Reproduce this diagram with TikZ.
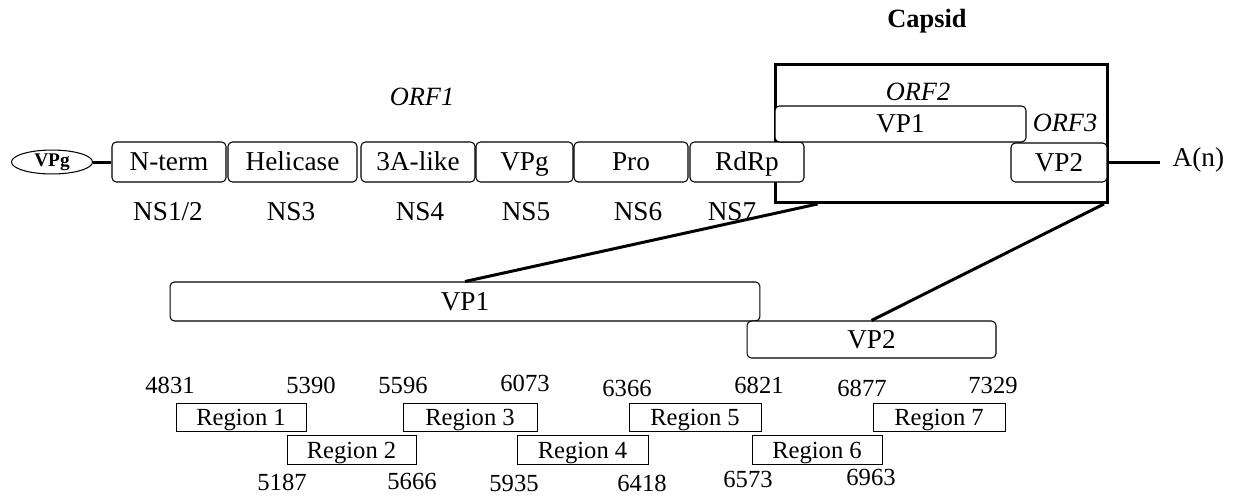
\documentclass[tikz,border=0pt]{standalone}
\usepackage{fontspec}
\setmainfont{Liberation Serif}
\usetikzlibrary{shapes.geometric,calc}
\tikzset{
  dm/.style={draw,rounded corners=2.5pt,fill=white,line width=0.6pt,inner sep=0pt,minimum height=0.8cm,font=\fontsize{15.5}{18}\selectfont,text height=10pt,text depth=0pt},
  rg/.style={draw,line width=0.5pt,inner sep=0pt,minimum height=0.57cm,font=\fontsize{14}{17}\selectfont,text height=9.5pt,text depth=0pt},
  lb/.style={inner sep=0pt,font=\fontsize{15.5}{18}\selectfont},
  num/.style={inner sep=0pt,font=\fontsize{14}{17}\selectfont},
  orf/.style={inner sep=0pt,font=\fontsize{15}{18}\selectfont\itshape},
  thk/.style={line width=1.7pt},
}
\begin{document}
\begin{tikzpicture}[x=0.02cm,y=-0.02cm]
\useasboundingbox (0,0) rectangle (1240,495);
\node[draw,line width=1.7pt,minimum width=6.64cm,minimum height=2.76cm,inner sep=0pt] (capsid) at (941.5,133.5){};
\node[lb,font=\fontsize{15}{18}\selectfont\bfseries] (capsidlbl) at (927,21){Capsid};
\node[orf] (orf1) at (422,97){ORF1}; \node[orf] (orf2) at (918,92){ORF2}; \node[orf] (orf3) at (1065,123){ORF3};
\node[ellipse,draw,line width=0.6pt,minimum width=1.62cm,minimum height=0.44cm,inner sep=0pt,font=\fontsize{11}{13}\selectfont\bfseries] (vpgcap) at (52,162){VPg};
\node[dm,minimum width=2.28cm] (nterm) at (169,162){N-term}; \node[dm,minimum width=2.58cm] (hel) at (292.5,162){Helicase};
\node[dm,minimum width=2.28cm] (alike) at (418,162){3A-like}; \node[dm,minimum width=1.94cm] (vpg) at (524.5,162){VPg};
\node[dm,minimum width=2.28cm] (pro) at (631,162){Pro}; \node[dm,minimum width=2.28cm] (rdrp) at (747,162){RdRp};
\node[dm,minimum width=5.02cm,minimum height=0.72cm] (vp1) at (900.5,124){VP1}; \node[dm,minimum width=1.92cm,minimum height=0.78cm] (vp2) at (1059,162.5){VP2};
\node[lb,anchor=west,inner xsep=7pt] (polyA) at (1160,160){A(n)};
\draw[thk] (vpgcap) -- (nterm); \draw[thk] (vp2.east) -- (vp2.east -| polyA.west);
\node[lb] (ns12) at (168,212){NS1/2}; \node[lb] (ns3) at (291,212){NS3}; \node[lb] (ns4) at (420,212){NS4};
\node[lb] (ns5) at (526,212){NS5}; \node[lb] (ns6) at (638,212){NS6}; \node[lb] (ns7) at (732,212){NS7};
\node[dm,minimum width=11.8cm,minimum height=0.78cm] (bvp1) at (465,301.5){VP1};
\node[dm,minimum width=4.98cm,minimum height=0.74cm] (bvp2) at (871.5,339.5){VP2};
\draw[thk] ($(capsid.south west)!0.13!(capsid.south east)$) -- (bvp1.north);
\draw[thk] ($(capsid.south west)!0.985!(capsid.south east)$) -- (bvp2.north);
\node[rg,minimum width=2.6cm] (r1) at (241,417.5){Region 1}; \node[rg,minimum width=2.58cm] (r2) at (351.5,450){Region 2};
\node[rg,minimum width=2.68cm] (r3) at (470,417.5){Region 3}; \node[rg,minimum width=2.62cm] (r4) at (582.5,450){Region 4};
\node[rg,minimum width=2.64cm] (r5) at (695,417.5){Region 5}; \node[rg,minimum width=2.6cm] (r6) at (817,450){Region 6};
\node[rg,minimum width=2.64cm] (r7) at (939,417.5){Region 7};
\node[num] (s1) at (170,385){4831}; \node[num] (e1) at (311,385){5390}; \node[num] (s3) at (403,385){5596};
\node[num] (e3) at (525,383){6073}; \node[num] (s5) at (627,388){6366}; \node[num] (e5) at (759,385){6821};
\node[num] (s7) at (862,388){6877}; \node[num] (e7) at (993,385){7329};
\node[num] (s2) at (282,482){5187}; \node[num] (e2) at (412,481){5666}; \node[num] (s4) at (514,483){5935};
\node[num] (e4) at (642,483){6418}; \node[num] (s6) at (748,479){6573}; \node[num] (e6) at (871,477){6963};
\end{tikzpicture}
\end{document}
